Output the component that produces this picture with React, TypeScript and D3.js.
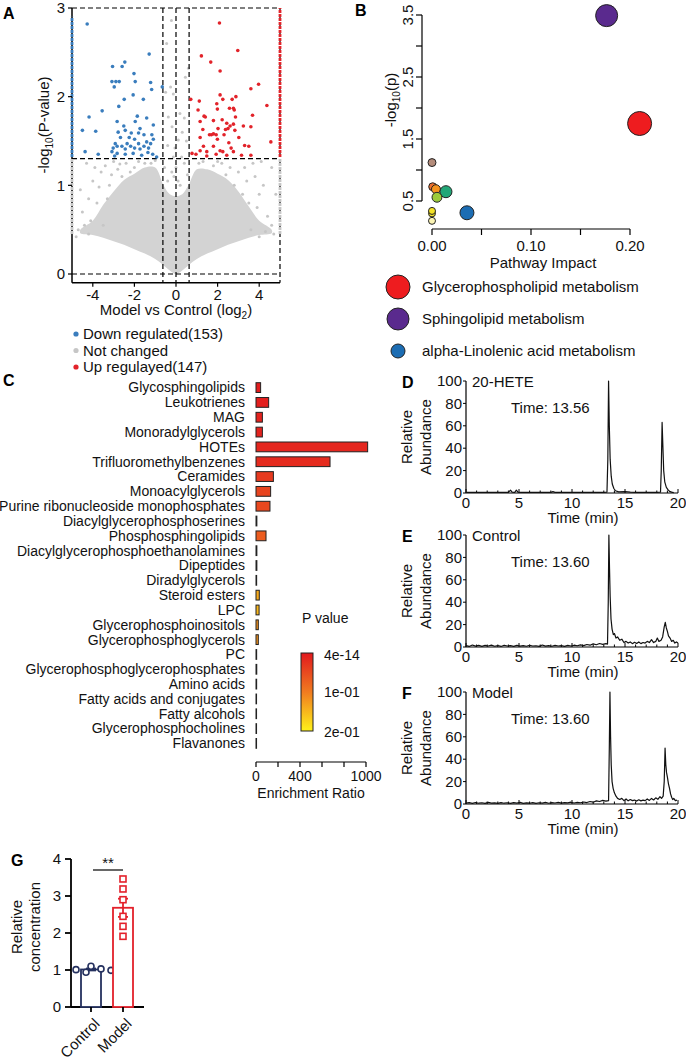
import React from 'react';
import * as d3 from 'd3';

const FONT = "'Liberation Sans', Arial, Helvetica, sans-serif";

// ---------------- Panel A: volcano ----------------
const volcanoXTicks = [-4, -2, 0, 2, 4];
const volcanoYTicks = [0, 1, 2, 3];
const fcCut = 0.63;
const pCut = 1.301;
const downPoints: [number, number][] = [
  [-4.27, 2.82], [-2.59, 2.34], [-2.46, 2.39], [-1.29, 2.48], [-3.05, 2.34], [-2.02, 2.26],
  [-3.08, 2.17], [-2.89, 2.17], [-2.73, 2.17], [-1.96, 2.17], [-1.22, 2.16], [-0.66, 2.11],
  [-2.97, 2.11], [-1.17, 2.08], [-2.06, 2.02], [-2.49, 1.97], [-1.57, 1.97], [-3.55, 1.84],
  [-2.75, 1.89], [-4.18, 1.77], [-1.86, 1.78], [-1.41, 1.76], [-2.83, 1.72], [-1.96, 1.72],
  [-4.5, 1.62], [-3.86, 1.61], [-2.51, 1.67], [-2.44, 1.62], [-1.09, 1.68], [-2.15, 1.59],
  [-1.73, 1.64], [-1.8, 1.59], [-2.78, 1.6], [-2.67, 1.54], [-2.25, 1.54], [-1.54, 1.57],
  [-1.16, 1.57], [-2.92, 1.47], [-2.35, 1.47], [-1.99, 1.52], [-1.8, 1.47], [-1.41, 1.49],
  [-1.22, 1.47], [-1.09, 1.52], [-3.02, 1.42], [-2.83, 1.44], [-2.6, 1.44], [-2.44, 1.41],
  [-2.18, 1.44], [-1.99, 1.42], [-1.73, 1.41], [-1.54, 1.44], [-1.32, 1.42], [-3.08, 1.38],
  [-2.83, 1.36], [-4.37, 1.38], [-3.74, 1.35], [-2.44, 1.35], [-2.06, 1.36], [-1.12, 1.35],
  [-0.93, 1.32], [-1.35, 1.37], [-2.95, 1.33], [-1.65, 1.34],
];
const upPoints: [number, number][] = [
  [2.09, 2.83], [2.97, 2.52], [1.22, 2.46], [1.67, 2.39], [2.12, 2.29], [3.97, 2.14],
  [3.6, 2.09], [2.12, 2.02], [2.88, 2.0], [2.7, 1.97], [2.25, 1.97], [1.12, 1.95],
  [0.71, 1.97], [1.96, 1.92], [2.57, 1.87], [2.76, 1.87], [2.8, 1.85], [1.99, 1.86],
  [4.37, 1.9], [1.06, 1.85], [1.35, 1.78], [1.41, 1.77], [3.68, 1.79], [2.22, 1.74],
  [2.86, 1.77], [1.16, 1.72], [1.8, 1.73], [2.44, 1.7], [2.6, 1.67], [2.76, 1.69],
  [3.24, 1.67], [3.6, 1.66], [2.02, 1.64], [2.5, 1.64], [2.38, 1.63], [2.83, 1.62],
  [1.29, 1.63], [1.7, 1.57], [1.8, 1.58], [1.61, 1.57], [1.93, 1.57], [2.31, 1.57],
  [1.16, 1.54], [3.02, 1.54], [1.99, 1.52], [2.54, 1.48], [4.56, 1.49], [3.5, 1.44],
  [1.32, 1.44], [1.8, 1.44], [2.12, 1.39], [2.25, 1.38], [1.48, 1.38], [1.16, 1.39],
  [2.76, 1.38], [1.93, 1.35], [2.44, 1.34], [3.15, 1.34], [3.6, 1.34], [1.48, 1.33],
  [0.96, 1.35], [0.77, 1.36], [2.65, 1.42], [3.3, 1.45],
];
const greyPoints: [number, number][] = [
  [-0.22, 2.86], [-0.45, 2.6], [0.45, 2.22], [-0.26, 2.11], [-0.13, 2.03], [0.19, 1.81],
  [-0.37, 1.77], [0.4, 1.76], [-0.19, 1.66], [0.11, 1.51], [0.27, 1.32], [-0.13, 1.32],
  [0.6, 2.32], [-0.5, 2.05], [0.3, 1.6], [-0.4, 1.45], [0.5, 1.5], [-0.05, 1.42],
  [-4.3, 1.25], [-4.0, 1.05], [-3.6, 1.15], [-3.2, 1.0], [-3.8, 0.8], [-4.5, 0.7],
  [-4.7, 0.5], [-4.2, 0.45], [-3.4, 1.22], [-2.8, 1.18], [-2.4, 1.25], [-2.0, 1.2],
  [-1.5, 1.25], [-1.0, 1.28], [-2.6, 1.1], [-3.0, 1.27], [-4.6, 0.95], [-4.1, 0.6],
  [-3.5, 0.55], [-3.9, 1.2], [-3.3, 0.85], [-2.2, 1.15], [-1.8, 1.27], [-3.7, 0.98],
  [-4.4, 0.55], [-4.8, 0.42], [-3.1, 1.12], [-1.2, 1.25], [-2.7, 1.24], [-4.2, 0.85],
  [4.6, 1.2], [4.2, 1.0], [3.8, 1.1], [3.4, 1.05], [3.9, 0.75], [4.4, 0.65],
  [4.6, 0.55], [4.0, 0.42], [3.6, 0.5], [3.0, 1.15], [2.6, 1.2], [2.2, 1.25],
  [1.8, 1.22], [1.3, 1.27], [2.8, 1.0], [3.2, 0.9], [4.8, 0.9], [4.1, 1.27],
  [3.5, 0.8], [3.7, 1.25], [2.4, 1.12], [4.3, 0.48], [4.7, 0.45], [3.3, 1.2],
  [1.1, 1.25], [2.0, 1.27], [4.0, 0.9],
  [0.0, 1.2], [0.1, 1.05], [-0.1, 1.1], [0.2, 1.0], [-0.2, 1.15], [0.4, 1.25],
  [-0.4, 1.05], [0.55, 1.12], [-0.55, 1.2],
];
const cloudLower: [number, number][] = [
  [-4.6, 0.46], [-4.0, 0.44], [-3.5, 0.41], [-3, 0.37], [-2.5, 0.33], [-2, 0.28], [-1.5, 0.23],
  [-1, 0.17], [-0.6, 0.1], [-0.3, 0.04], [0, 0], [0.3, 0.04], [0.6, 0.1], [1, 0.17],
  [1.5, 0.23], [2, 0.28], [2.5, 0.33], [3, 0.37], [3.5, 0.41], [4.0, 0.44], [4.6, 0.46],
];
const cloudUpper: [number, number][] = [
  [4.6, 0.5], [4.0, 0.6], [3.5, 0.76], [3.0, 0.93], [2.5, 1.06], [2.0, 1.13], [1.5, 1.18],
  [1.0, 1.18], [0.6, 1.0], [0.3, 0.9], [0, 0.88], [-0.3, 0.9], [-0.6, 1.0], [-1.0, 1.2],
  [-1.5, 1.2], [-2.0, 1.13], [-2.5, 1.06], [-3.0, 0.93], [-3.5, 0.78], [-4.0, 0.6], [-4.6, 0.5],
];
const edgeColumns = [
  { x: -5, from: 1.32, to: 2.9, status: 'down' },
  { x: -5, from: 0.45, to: 1.3, status: 'none' },
  { x: 5, from: 1.32, to: 3.0, status: 'up' },
  { x: 5, from: 0.45, to: 1.3, status: 'none' },
];
const volcanoLegend = ['Down regulated(153)', 'Not changed', 'Up regulayed(147)'];
const volcanoLegendStatus = ['down', 'none', 'up'];
const statusColor: Record<string, string> = { down: '#3a7dbd', none: '#c6c6c6', up: '#e2232a' };

// ---------------- Panel B: pathway ----------------
const pathwayImpact = [0.0, 0.0, 0.0, 0.0, 0.0007, 0.004, 0.0141, 0.005, 0.0353, 0.1764, 0.2097];
const pathwayLogP = [0.18, 0.3, 0.34, 1.12, 0.73, 0.69, 0.65, 0.56, 0.31, 3.49, 1.75];
const pathwaySize = [0.085, 0.085, 0.085, 0.11, 0.11, 0.14, 0.25, 0.17, 0.34, 0.84, 1.0];
const pathwayPalette = ['#fbf4b4', '#f3e227', '#f3e227', '#b48c7b', '#ea6f2f', '#f5931f', '#22a777', '#9ccb3b', '#1c6db3', '#5a2a8e', '#ee1c1f'];
const pathwayLegend = ['Glycerophospholipid metabolism', 'Sphingolipid metabolism', 'alpha-Linolenic acid metabolism'];
const pathwayLegendIndex = [10, 9, 8];
const pathwayXTicks = [0, 0.05, 0.1, 0.15, 0.2];
const pathwayXLabels = ['0.00', '', '0.10', '', '0.20'];
const pathwayYTicks = [0.5, 1, 1.5, 2, 2.5, 3, 3.5];
const pathwayYLabels = ['0.5', '', '1.5', '', '2.5', '', '3.5'];

// ---------------- Panel C: enrichment ----------------
const enrichCategories = [
  'Glycosphingolipids', 'Leukotrienes', 'MAG', 'Monoradylglycerols', 'HOTEs', 'Trifluoromethylbenzenes',
  'Ceramides', 'Monoacylglycerols', 'Purine ribonucleoside monophosphates', 'Diacylglycerophosphoserines',
  'Phosphosphingolipids', 'Diacylglycerophosphoethanolamines', 'Dipeptides', 'Diradylglycerols',
  'Steroid esters', 'LPC', 'Glycerophosphoinositols', 'Glycerophosphoglycerols', 'PC',
  'Glycerophosphoglycerophosphates', 'Amino acids', 'Fatty acids and conjugates', 'Fatty alcohols',
  'Glycerophosphocholines', 'Flavanones',
];
const enrichRatio = [42, 115, 58, 58, 1015, 673, 158, 133, 127, 8, 91, 8, 8, 6, 30, 28, 21, 21, 6, 7, 6, 5, 5, 5, 5];
const enrichP = [0.004, 0.006, 0.01, 0.01, 0.013, 0.018, 0.034, 0.044, 0.048, 0.06, 0.068, 0.09, 0.1, 0.11, 0.14, 0.15, 0.12, 0.12, 0.16, 0.17, 0.18, 0.18, 0.19, 0.19, 0.2];
const enrichTicks = [0, 200, 400, 600, 800, 1000];
const enrichTickLabels = ['0', '', '400', '', '', '1000'];
const pLegendLabels = ['4e-14', '1e-01', '2e-01'];
const pLegendValues = [0, 0.1, 0.2];

// ---------------- Panels D-F: chromatograms ----------------
const chromXTicks = [0, 5, 10, 15, 20];
const chromMinorTicks = d3.range(0, 21, 1);
const chromYTicks = [0, 20, 40, 60, 80, 100];
const chromHETE: [number, number][] = [
  [0, 0.5], [0.5, 0.6], [1, 0.5], [1.5, 0.6], [2, 0.5], [2.5, 0.6], [3, 0.5], [3.5, 0.6], [4.0, 0.6],
  [4.2, 2.5], [4.35, 0.8], [4.6, 0.6], [4.75, 2.5], [4.9, 0.8], [5.2, 0.5], [6, 0.5], [7, 0.6],
  [8, 0.6], [8.2, 1.2], [8.4, 0.6], [9, 0.5], [10, 0.5], [11, 0.6], [12, 0.5], [13, 0.6],
  [13.3, 0.8], [13.38, 30], [13.45, 100], [13.52, 60], [13.6, 30], [13.7, 15], [13.8, 8],
  [13.95, 4], [14.1, 2], [14.4, 1], [15, 1.2], [15.5, 0.8], [16, 0.6], [17, 0.6], [18, 0.6],
  [18.35, 0.8], [18.42, 20], [18.5, 63], [18.58, 40], [18.65, 20], [18.75, 10], [18.9, 5],
  [19.05, 3], [19.2, 1.5], [19.4, 0.8], [19.6, 0.4],
];
const chromControl: [number, number][] = [
  [0, 1.2], [0.3, 0.5], [0.6, 1.8], [0.9, 0.8], [1.2, 1.5], [1.5, 0.6], [1.8, 1.4], [2.1, 0.9],
  [2.4, 1.7], [2.7, 0.7], [3.0, 1.3], [3.3, 0.5], [3.6, 1.6], [3.9, 0.9], [4.2, 1.2], [4.5, 0.6],
  [4.8, 1.5], [5.1, 0.8], [5.4, 1.3], [5.7, 0.7], [6.0, 1.6], [6.3, 0.9], [6.6, 1.1], [6.9, 0.6],
  [7.2, 1.8], [7.5, 0.8], [7.8, 1.3], [8.1, 0.7], [8.4, 1.4], [8.7, 0.9], [9.0, 1.2], [9.3, 0.6],
  [9.6, 1.5], [9.9, 0.9], [10.2, 1.6], [10.5, 1.1], [10.8, 1.9], [11.1, 1.2], [11.4, 2.2],
  [11.7, 1.6], [12.0, 2.8], [12.3, 2.0], [12.6, 3.1], [12.9, 2.4], [13.2, 3.0], [13.35, 2.6],
  [13.42, 40], [13.48, 100], [13.54, 70], [13.6, 45], [13.68, 25], [13.78, 16], [13.9, 11],
  [14.0, 12], [14.15, 8], [14.3, 9], [14.5, 6], [14.7, 7], [14.9, 4], [15.1, 5], [15.3, 3.5],
  [15.5, 4.5], [15.7, 3], [15.9, 4.2], [16.1, 3.2], [16.3, 4.5], [16.5, 3], [16.7, 4], [16.9, 3.5],
  [17.1, 5], [17.3, 4], [17.5, 6.5], [17.7, 4], [17.9, 5], [18.05, 8], [18.2, 5], [18.4, 6],
  [18.55, 9], [18.7, 18], [18.8, 22], [18.9, 17], [19.0, 14], [19.1, 10], [19.25, 8], [19.4, 5],
  [19.55, 6], [19.7, 3.5], [19.85, 4.5], [20, 3.5],
];
const chromModel: [number, number][] = [
  [0, 0.8], [0.3, 1.2], [0.6, 0.5], [0.9, 1.3], [1.2, 0.7], [1.5, 1.1], [1.8, 0.5], [2.1, 1.4],
  [2.4, 0.8], [2.7, 1.0], [3.0, 0.6], [3.3, 1.3], [3.6, 0.7], [3.9, 1.1], [4.2, 0.5], [4.5, 1.2],
  [4.8, 0.8], [5.1, 1.4], [5.4, 0.6], [5.7, 1.0], [6.0, 0.7], [6.3, 1.3], [6.6, 0.6], [6.9, 1.1],
  [7.2, 0.8], [7.5, 1.5], [7.8, 0.7], [8.1, 1.2], [8.4, 0.9], [8.7, 1.4], [9.0, 0.8], [9.3, 1.2],
  [9.6, 1.0], [9.9, 1.6], [10.2, 0.9], [10.5, 1.5], [10.8, 1.1], [11.1, 1.8], [11.4, 1.3],
  [11.7, 2.2], [12.0, 1.6], [12.3, 2.8], [12.6, 2.2], [12.9, 3.2], [13.2, 2.6], [13.45, 3],
  [13.52, 50], [13.58, 100], [13.64, 60], [13.7, 35], [13.78, 20], [13.88, 14], [14.0, 10],
  [14.15, 7], [14.3, 5], [14.5, 4], [14.7, 5], [14.9, 3], [15.1, 4.5], [15.3, 2.8], [15.5, 4],
  [15.7, 3], [15.9, 3.5], [16.1, 2.6], [16.3, 3.8], [16.5, 2.8], [16.7, 3.5], [16.9, 3],
  [17.1, 4.5], [17.3, 3.2], [17.5, 5], [17.7, 3.6], [17.9, 5.5], [18.1, 4.2], [18.3, 6.5],
  [18.45, 5], [18.6, 7], [18.7, 20], [18.78, 50], [18.85, 35], [18.92, 28], [19.0, 24],
  [19.1, 18], [19.2, 14], [19.3, 9], [19.4, 6], [19.5, 4], [19.6, 5], [19.75, 3], [19.9, 3.5],
];
const chromLetters = ['D', 'E', 'F'];
const chromTitles = ['20-HETE', 'Control', 'Model'];
const chromTimes = ['Time: 13.56', 'Time: 13.60', 'Time: 13.60'];
const chromSeries = [chromHETE, chromControl, chromModel];

// ---------------- Panel G: concentration ----------------
const concGroups = ['Control', 'Model'];
const concControl = [1.1, 0.94, 1.03, 1.01, 0.99];
const concModel = [3.46, 3.19, 2.9, 2.45, 2.18, 1.91];
const concYTicks = [0, 1, 2, 3, 4];
const concSignif = '**';

function sem(v: number[]) {
  const sd = d3.deviation(v) || 0;
  return sd / Math.sqrt(v.length);
}

function swarm(values: number[], y: (v: number) => number, r: number, step: number) {
  const placed: { x: number; y: number }[] = [];
  return values.map((v) => {
    const py = y(v);
    let k = 0;
    for (let i = 0; i < 20; i++) {
      const cand = i === 0 ? 0 : (i % 2 === 1 ? -1 : 1) * Math.ceil(i / 2);
      const ox = cand * step;
      if (placed.every((p) => Math.hypot(p.x - ox, p.y - py) >= 2 * r + 0.5)) { k = cand; break; }
    }
    const pt = { x: k * step, y: py };
    placed.push(pt);
    return pt;
  });
}

export default function App() {
  // A scales
  const xV = d3.scaleLinear().domain([-5, 5]).range([72, 280]);
  const yV = d3.scaleLinear().domain([0, 3]).range([274, 8]);
  const yVbot = yV(-0.1);
  const cloudPath = d3.line<[number, number]>().curve(d3.curveCatmullRomClosed).x((d) => xV(d[0])).y((d) => yV(d[1]))([...cloudLower, ...cloudUpper]) || '';

  // B scales
  const xB = d3.scaleLinear().domain([0, 0.2]).range([432, 630]);
  const yB = d3.scaleLinear().domain([0.5, 3.5]).range([201, 15]);
  const rB = d3.scaleSqrt().domain([0, 1]).range([0, 12]);
  const order = d3.range(pathwayImpact.length);

  // C scales
  const xC = d3.scaleLinear().domain([0, 1000]).range([256, 366]);
  const yC = d3.scaleBand().domain(enrichCategories).range([382.7, 748.3]).paddingInner(0.34);
  const colC = d3.scaleLinear<string>().domain([0, 0.1, 0.2]).range(['#e2191e', '#f07b20', '#fff21a']);
  const yLeg = d3.scaleLinear().domain([0, 0.2]).range([653, 731]);

  // D-F scales
  const xCh = d3.scaleLinear().domain([0, 20]).range([466, 678]);
  const chromTop = [381, 535, 692];

  // G scales
  const yG = d3.scaleLinear().domain([0, 4]).range([1007, 859]);
  const xG = d3.scalePoint().domain(concGroups).range([91, 123]);
  const groupVals = [concControl, concModel];
  const groupColor = ['#25315f', '#e3212b'];

  const txt = { fontFamily: FONT, fontSize: 15, fill: '#111' } as const;

  return (
    <svg width={686} height={1064} style={{ position: 'absolute', left: 0, top: 0, background: '#fff' }} fontFamily={FONT}>
      <rect width={686} height={1064} fill="#fff" />
      {/* ================= A ================= */}
      <text x={3} y={19} fontSize={16} fontWeight="bold" fontFamily={FONT}>A</text>
      <path d={cloudPath} fill="#d3d3d3" stroke="none" />
      {greyPoints.map((p, i) => (
        <circle key={'g' + i} cx={xV(p[0])} cy={yV(p[1])} r={1.5} fill={statusColor.none} />
      ))}
      {/* dashed guides */}
      <line x1={xV(-5)} x2={xV(5)} y1={yV(pCut)} y2={yV(pCut)} stroke="#000" strokeWidth={1.2} strokeDasharray="5,3" />
      <line x1={xV(-5)} x2={xV(5)} y1={yV(0)} y2={yV(0)} stroke="#000" strokeWidth={1.2} strokeDasharray="5,3" />
      {[-fcCut, 0, fcCut].map((v, i) => (
        <line key={'vd' + i} x1={xV(v)} x2={xV(v)} y1={yV(3)} y2={yVbot} stroke="#000" strokeWidth={1.2} strokeDasharray="5,3" />
      ))}
      <line x1={xV(-5)} x2={xV(5)} y1={yV(3)} y2={yV(3)} stroke="#000" strokeWidth={1.2} strokeDasharray="5,3" />
      <line x1={xV(5)} x2={xV(5)} y1={yV(3)} y2={yVbot} stroke="#000" strokeWidth={1.2} strokeDasharray="5,3" />
      <line x1={xV(-5)} x2={xV(-5)} y1={yV(3)} y2={yVbot} stroke="#000" strokeWidth={1.5} />
      <line x1={xV(-5)} x2={xV(5)} y1={yVbot} y2={yVbot} stroke="#000" strokeWidth={1.5} />
      {downPoints.map((p, i) => (
        <circle key={'d' + i} cx={xV(p[0])} cy={yV(p[1])} r={1.8} fill={statusColor.down} />
      ))}
      {upPoints.map((p, i) => (
        <circle key={'u' + i} cx={xV(p[0])} cy={yV(p[1])} r={1.8} fill={statusColor.up} />
      ))}
      {edgeColumns.map((c, i) => (
        <line key={'ec' + i} x1={xV(c.x)} x2={xV(c.x)} y1={yV(c.from)} y2={yV(c.to)} stroke={statusColor[c.status]} strokeWidth={2.8} strokeDasharray="3,1" />
      ))}
      {volcanoYTicks.map((t) => (
        <g key={'vy' + t}>
          <line x1={xV(-5) - 4} x2={xV(-5)} y1={yV(t)} y2={yV(t)} stroke="#000" strokeWidth={1.2} />
          <text x={xV(-5) - 7} y={yV(t)} dy="0.35em" textAnchor="end" {...txt}>{t}</text>
        </g>
      ))}
      {volcanoXTicks.map((t) => (
        <g key={'vx' + t}>
          <line x1={xV(t)} x2={xV(t)} y1={yVbot} y2={yVbot + 4} stroke="#000" strokeWidth={1.2} />
          <text x={xV(t)} y={yVbot + 17} textAnchor="middle" {...txt}>{t}</text>
        </g>
      ))}
      <text x={176} y={315} textAnchor="middle" {...txt}>
        Model vs Control (log<tspan fontSize={10} dy={4}>2</tspan><tspan dy={-4}>)</tspan>
      </text>
      <text transform="translate(49,125) rotate(-90)" textAnchor="middle" {...txt}>
        -log<tspan fontSize={10} dy={4}>10</tspan><tspan dy={-4}>(P-value)</tspan>
      </text>
      {volcanoLegend.map((l, i) => (
        <g key={'vl' + i}>
          <circle cx={76} cy={334 + i * 16.5} r={2.6} fill={statusColor[volcanoLegendStatus[i]]} />
          <text x={83} y={334 + i * 16.5} dy="0.35em" {...txt}>{l}</text>
        </g>
      ))}

      {/* ================= B ================= */}
      <text x={355} y={16} fontSize={16} fontWeight="bold" fontFamily={FONT}>B</text>
      <line x1={422} x2={422} y1={yB(3.5)} y2={yB(0.5)} stroke="#000" strokeWidth={1.2} />
      {pathwayYTicks.map((t, i) => (
        <g key={'by' + i}>
          <line x1={416} x2={422} y1={yB(t)} y2={yB(t)} stroke="#000" strokeWidth={1.2} />
          {pathwayYLabels[i] && (
            <text transform={`translate(413,${yB(t)}) rotate(-90)`} textAnchor="middle" {...txt}>{pathwayYLabels[i]}</text>
          )}
        </g>
      ))}
      <line x1={xB(0)} x2={xB(0.2)} y1={229} y2={229} stroke="#000" strokeWidth={1.2} />
      {pathwayXTicks.map((t, i) => (
        <g key={'bx' + i}>
          <line x1={xB(t)} x2={xB(t)} y1={229} y2={235} stroke="#000" strokeWidth={1.2} />
          {pathwayXLabels[i] && <text x={xB(t)} y={251} textAnchor="middle" {...txt}>{pathwayXLabels[i]}</text>}
        </g>
      ))}
      <text x={543} y={268} textAnchor="middle" {...txt}>Pathway Impact</text>
      <text transform="translate(396,100) rotate(-90)" textAnchor="middle" {...txt}>
        -log<tspan fontSize={10} dy={4}>10</tspan><tspan dy={-4}>(p)</tspan>
      </text>
      {order.map((i) => (
        <circle key={'bp' + i} cx={xB(pathwayImpact[i])} cy={yB(pathwayLogP[i])} r={rB(pathwaySize[i])} fill={pathwayPalette[i]} stroke="#222" strokeWidth={1} />
      ))}
      {pathwayLegend.map((l, k) => {
        const i = pathwayLegendIndex[k];
        const cy = 287 + k * 32;
        return (
          <g key={'bl' + k}>
            <circle cx={398} cy={cy} r={rB(pathwaySize[i])} fill={pathwayPalette[i]} stroke="#222" strokeWidth={1} />
            <text x={422} y={cy} dy="0.35em" {...txt}>{l}</text>
          </g>
        );
      })}

      {/* ================= C ================= */}
      <text x={3} y={386} fontSize={16} fontWeight="bold" fontFamily={FONT}>C</text>
      {enrichCategories.map((c, i) => (
        <g key={'c' + i}>
          <text x={245} y={(yC(c) || 0) + yC.bandwidth() / 2} dy="0.35em" textAnchor="end" fontFamily={FONT} fontSize={14} fill="#111">{c}</text>
          <rect x={xC(0)} y={yC(c)} width={Math.max(0.5, xC(enrichRatio[i]) - xC(0))} height={yC.bandwidth()} fill={colC(enrichP[i])} stroke="#222" strokeWidth={1} />
        </g>
      ))}
      <line x1={xC(0)} x2={xC(1000)} y1={762} y2={762} stroke="#000" strokeWidth={1.2} />
      {enrichTicks.map((t, i) => (
        <g key={'ct' + i}>
          <line x1={xC(t)} x2={xC(t)} y1={762} y2={767} stroke="#000" strokeWidth={1.2} />
          {enrichTickLabels[i] && <text x={xC(t)} y={781} textAnchor="middle" fontFamily={FONT} fontSize={14} fill="#111">{enrichTickLabels[i]}</text>}
        </g>
      ))}
      <text x={311} y={798} textAnchor="middle" fontFamily={FONT} fontSize={14} fill="#111">Enrichment Ratio</text>
      <defs>
        <linearGradient id="pgrad" x1="0" x2="0" y1="0" y2="1">
          {pLegendValues.map((v, i) => (
            <stop key={'st' + i} offset={`${(v / 0.2) * 100}%`} stopColor={colC(v)} />
          ))}
        </linearGradient>
      </defs>
      <text x={302} y={618} dy="0.35em" fontFamily={FONT} fontSize={14} fill="#111">P value</text>
      <rect x={301} y={yLeg(0)} width={12} height={yLeg(0.2) - yLeg(0)} fill="url(#pgrad)" stroke="#222" strokeWidth={1} />
      {pLegendValues.map((v, i) => (
        <text key={'pl' + i} x={324} y={yLeg(v) + (i === 0 ? 2 : i === 2 ? 1 : 0)} dy="0.35em" fontFamily={FONT} fontSize={14} fill="#111">{pLegendLabels[i]}</text>
      ))}

      {/* ================= D-F ================= */}
      {chromSeries.map((series, k) => {
        const top = chromTop[k];
        const yCh = d3.scaleLinear().domain([0, 100]).range([top + 112, top]);
        const path = d3.line<[number, number]>().x((d) => xCh(d[0])).y((d) => yCh(d[1]))(series) || '';
        const y0 = yCh(0);
        return (
          <g key={'ch' + k}>
            <text x={402} y={top + 7} fontSize={16} fontWeight="bold" fontFamily={FONT}>{chromLetters[k]}</text>
            <line x1={xCh(0)} x2={xCh(0)} y1={top} y2={y0} stroke="#000" strokeWidth={1.2} />
            <line x1={xCh(0)} x2={xCh(20)} y1={y0} y2={y0} stroke="#000" strokeWidth={1.2} />
            {chromYTicks.map((t) => (
              <g key={'cy' + t}>
                <line x1={xCh(0) - 3} x2={xCh(0)} y1={yCh(t)} y2={yCh(t)} stroke="#000" strokeWidth={1} />
                <text x={462} y={yCh(t)} dy="0.35em" textAnchor="end" {...txt}>{t}</text>
              </g>
            ))}
            {chromMinorTicks.map((t) => (
              <line key={'cm' + t} x1={xCh(t)} x2={xCh(t)} y1={y0} y2={y0 - (t % 5 === 0 ? 4 : 2.5)} stroke="#000" strokeWidth={1} />
            ))}
            {chromXTicks.map((t) => (
              <text key={'cx' + t} x={xCh(t)} y={y0 + 15} textAnchor="middle" {...txt}>{t}</text>
            ))}
            <text x={583} y={y0 + 30} textAnchor="middle" {...txt}>Time (min)</text>
            <text transform={`translate(407,${top + 56}) rotate(-90)`} dy="0.35em" textAnchor="middle" {...txt}>Relative</text>
            <text transform={`translate(426,${top + 56}) rotate(-90)`} dy="0.35em" textAnchor="middle" {...txt}>Abundance</text>
            <text x={472} y={top + 6} {...txt}>{chromTitles[k]}</text>
            <text x={511} y={top + 32} {...txt}>{chromTimes[k]}</text>
            <path d={path} fill="none" stroke="#111" strokeWidth={1.2} strokeLinejoin="round" />
          </g>
        );
      })}

      {/* ================= G ================= */}
      <text x={11} y={866} fontSize={16} fontWeight="bold" fontFamily={FONT}>G</text>
      <line x1={71} x2={71} y1={yG(4)} y2={yG(0)} stroke="#000" strokeWidth={1.8} />
      <line x1={71} x2={144} y1={yG(0)} y2={yG(0)} stroke="#000" strokeWidth={1.8} />
      {concYTicks.map((t) => (
        <g key={'gy' + t}>
          <line x1={65} x2={71} y1={yG(t)} y2={yG(t)} stroke="#000" strokeWidth={1.8} />
          <text x={61} y={yG(t)} dy="0.35em" textAnchor="end" {...txt}>{t}</text>
        </g>
      ))}
      {concGroups.map((g, i) => {
        const vals = groupVals[i];
        const m = d3.mean(vals) || 0;
        const e = sem(vals);
        const cx = xG(g) || 0;
        const col = groupColor[i];
        const pts = swarm(vals, yG, 3, 5);
        return (
          <g key={'gg' + i}>
            <rect x={cx - 10} y={yG(m)} width={20} height={yG(0) - yG(m)} fill="#fff" stroke={col} strokeWidth={1.8} />
            <line x1={cx} x2={cx} y1={yG(m + e)} y2={yG(m)} stroke={col} strokeWidth={1.8} />
            <line x1={cx - 5} x2={cx + 5} y1={yG(m + e)} y2={yG(m + e)} stroke={col} strokeWidth={1.8} />
            <line x1={cx} x2={cx} y1={yG(m)} y2={yG(m - e)} stroke={col} strokeWidth={1.8} />
            <line x1={cx - 5} x2={cx + 5} y1={yG(m - e)} y2={yG(m - e)} stroke={col} strokeWidth={1.8} />
            {pts.map((p, j) =>
              i === 0 ? (
                <circle key={'gp' + j} cx={cx + p.x} cy={p.y} r={3} fill="#fff" stroke={col} strokeWidth={1.6} />
              ) : (
                <rect key={'gp' + j} x={cx + p.x - 3} y={p.y - 3} width={6} height={6} fill="#fff" stroke={col} strokeWidth={1.6} />
              )
            )}
            <line x1={cx} x2={cx} y1={yG(0)} y2={yG(0) + 5} stroke="#000" strokeWidth={1.8} />
            <text transform={`translate(${cx + 6},${yG(0) + 14}) rotate(-45)`} dy="0.35em" textAnchor="end" {...txt}>{g}</text>
          </g>
        );
      })}
      <line x1={(xG('Control') || 0) + 2} x2={xG('Model') || 0} y1={870} y2={870} stroke="#000" strokeWidth={1.2} />
      <text x={108} y={868} textAnchor="middle" {...txt}>{concSignif}</text>
      <text transform="translate(17,927) rotate(-90)" dy="0.35em" textAnchor="middle" {...txt}>Relative</text>
      <text transform="translate(35,927) rotate(-90)" dy="0.35em" textAnchor="middle" {...txt}>concentration</text>
    </svg>
  );
}
